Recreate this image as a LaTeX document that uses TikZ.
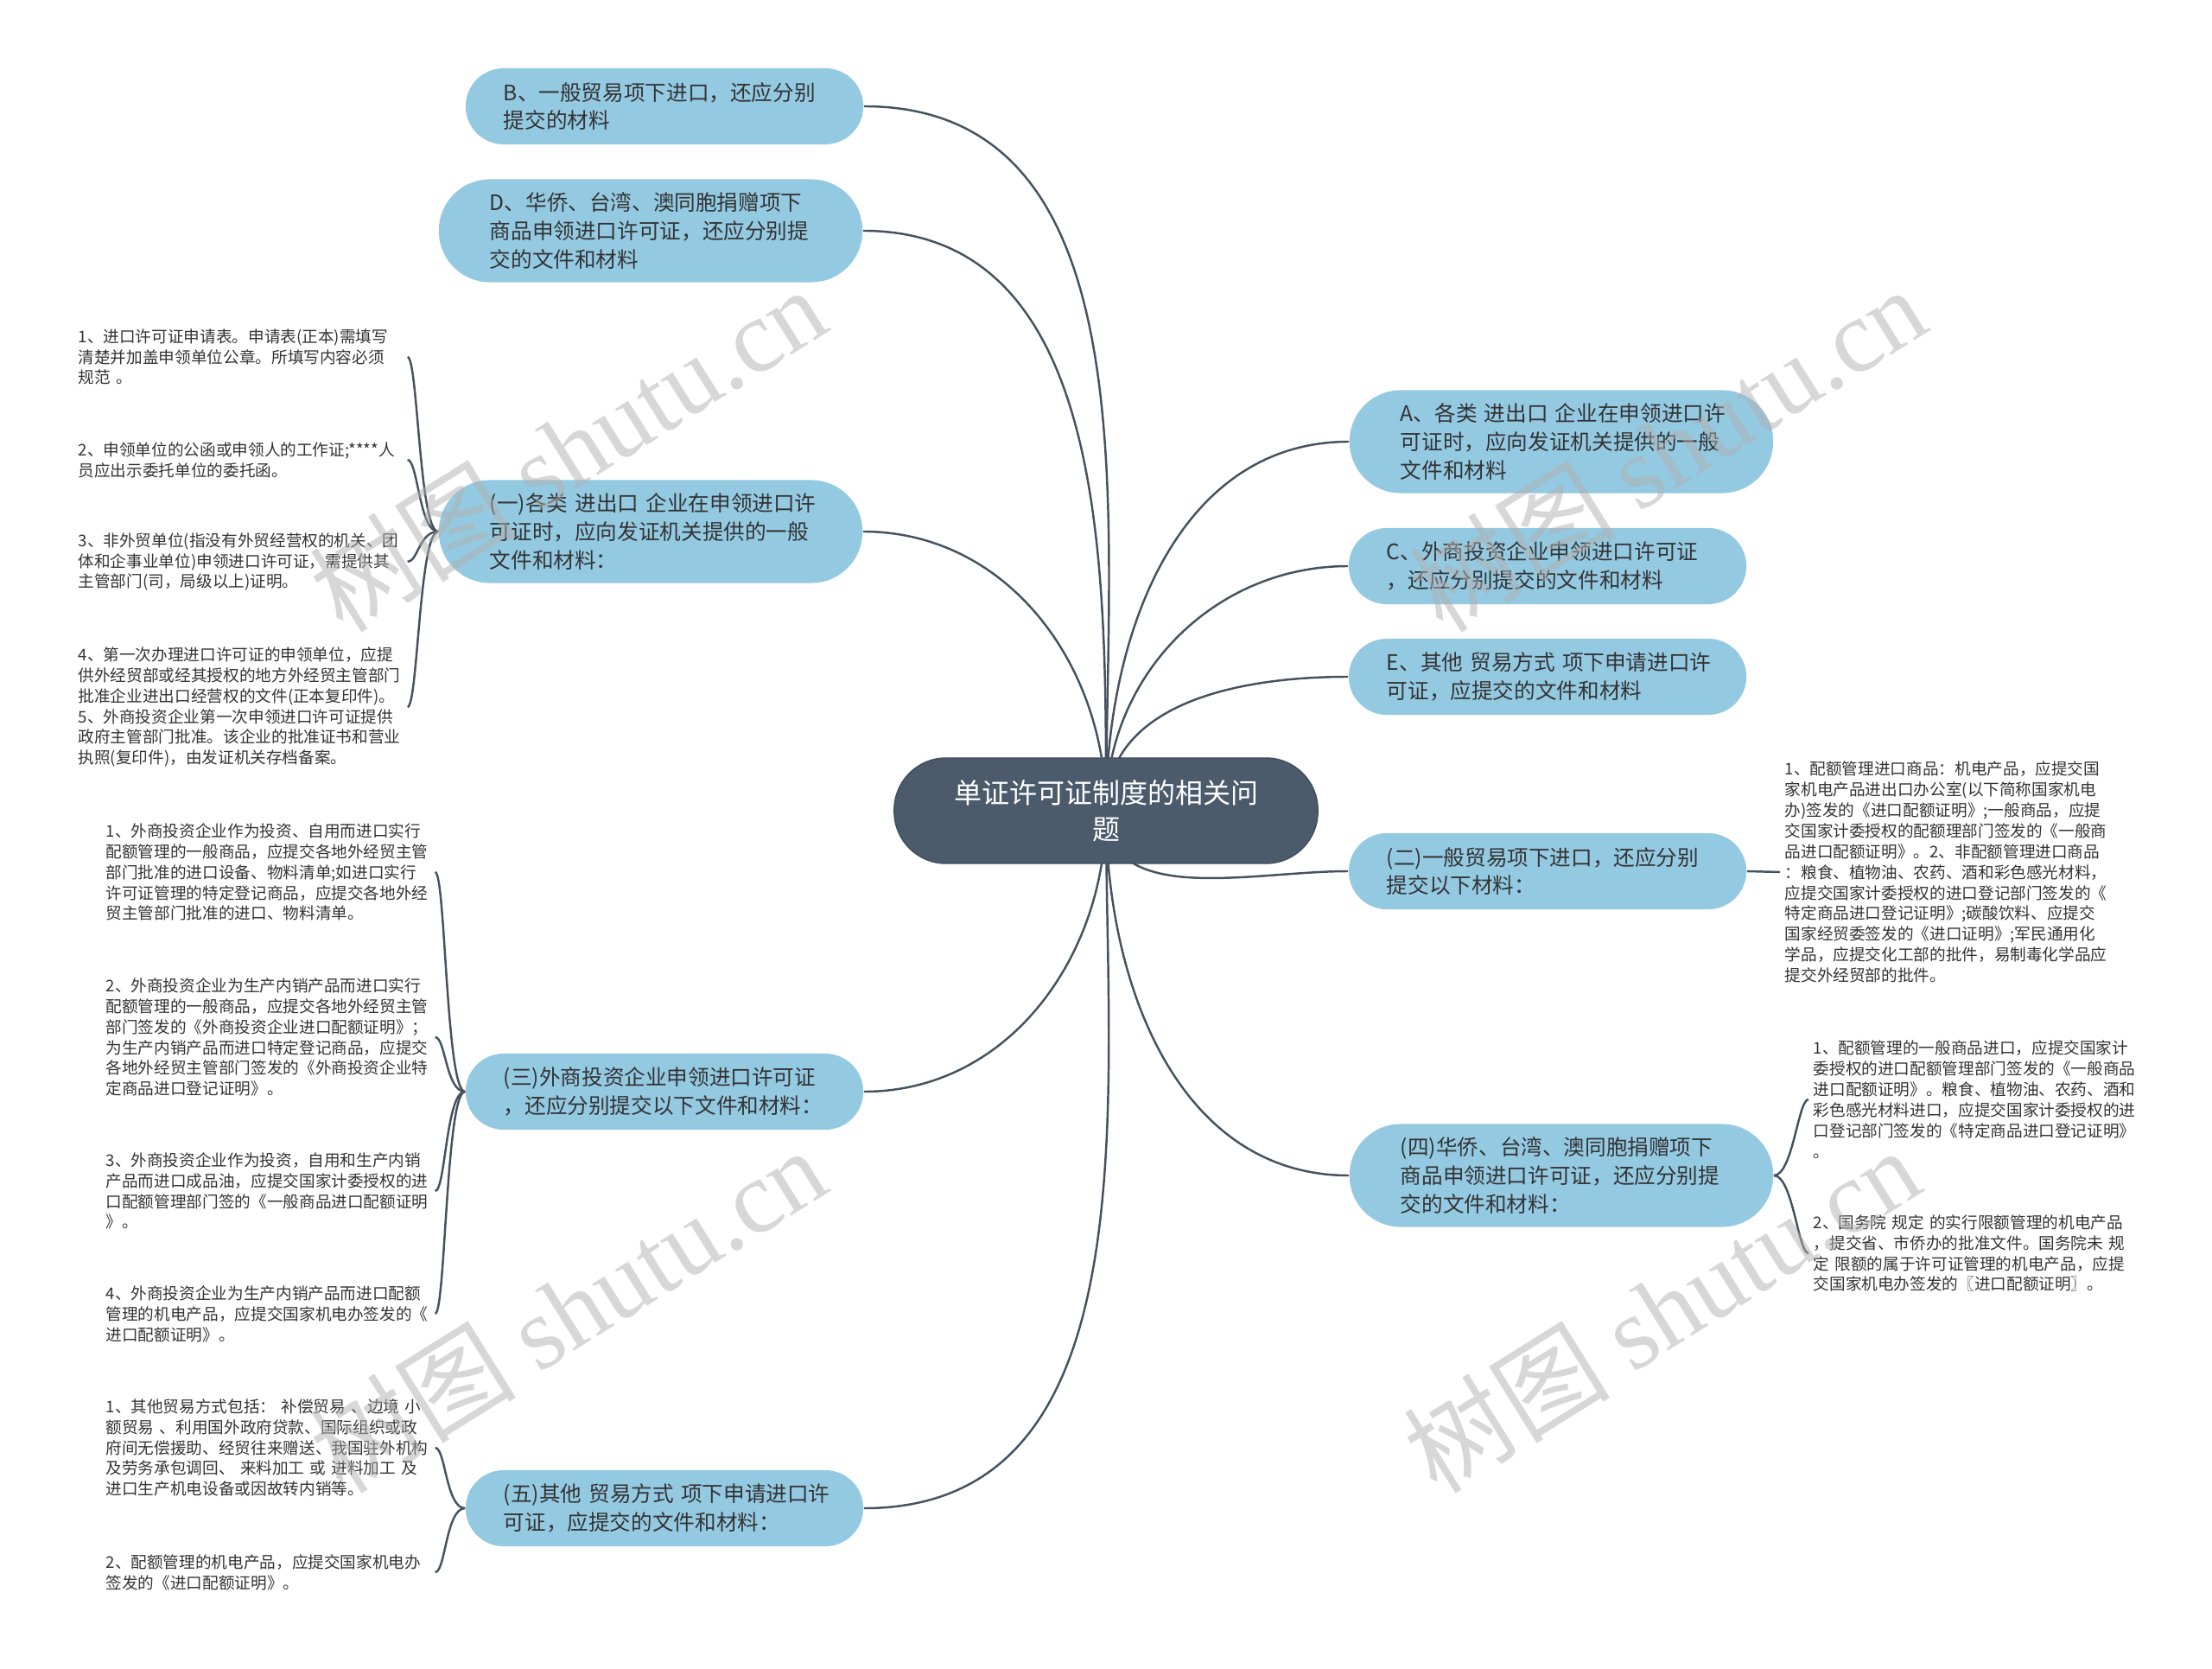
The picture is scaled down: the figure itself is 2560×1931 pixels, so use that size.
\documentclass[tikz,border=0pt]{standalone}
\usepackage{fontspec}
\setmainfont{Noto Sans CJK SC}
\newfontfamily\wmfont{Liberation Serif}
\usetikzlibrary{backgrounds}
\definecolor{topicfill}{HTML}{4B5B6B}
\definecolor{branchfill}{HTML}{94C9E2}
\definecolor{linecol}{HTML}{45525E}
\definecolor{inkcol}{HTML}{333333}
\definecolor{wmgray}{HTML}{B0B0B0}
\tikzset{
  topic/.style={fill=topicfill, draw=topicfill!85!black, text=white, align=center,
    text width=3.8cm, inner xsep=0.55cm, minimum height=1.22cm, rounded corners=0.6cm,
    font=\fontsize{9.1}{12}\selectfont},
  branch/.style={fill=branchfill, text=inkcol, align=left, text width=3.72cm,
    inner ysep=0pt, font=\fontsize{7}{9.3}\selectfont},
  pill2/.style={branch, inner xsep=0.44cm, minimum height=0.88cm, rounded corners=0.44cm},
  pill3/.style={branch, inner xsep=0.59cm, minimum height=1.19cm, rounded corners=0.59cm},
  leaf/.style={text=inkcol, align=left, text width=3.75cm, inner xsep=0.05cm,
    inner ysep=0pt, anchor=west, font=\fontsize{5.3}{6.8}\selectfont},
  link/.style={draw=linecol, line width=0.7pt},
  wmark/.style={text=wmgray, text opacity=0.5, rotate=32, font=\fontsize{34}{34}\selectfont},
}

\begin{document}
\begin{tikzpicture}[x=0.01cm, y=-0.01cm]
  \useasboundingbox (0,0) rectangle (2560,1931);

  % central topic
  \node[topic] (cen) at (1280,938) {单证许可证制度的相关问\\题};

  % left branches
  \node[pill2] (bB) at (769,123) {B、一般贸易项下进口，还应分别\\提交的材料};
  \node[pill3] (bD) at (753,267) {D、华侨、台湾、澳同胞捐赠项下\\商品申领进口许可证，还应分别提\\交的文件和材料};
  \node[pill3] (g1) at (753,615) {(一)各类~进出口~企业在申领进口许\\可证时，应向发证机关提供的一般\\文件和材料：};
  \node[pill2] (g3) at (769,1263) {(三)外商投资企业申领进口许可证\\，还应分别提交以下文件和材料：};
  \node[pill2] (g5) at (769,1745) {(五)其他~贸易方式~项下申请进口许\\可证，应提交的文件和材料：};

  % right branches
  \node[pill3] (bA) at (1807,511) {A、各类~进出口~企业在申领进口许\\可证时，应向发证机关提供的一般\\文件和材料};
  \node[pill2] (bC) at (1791,655) {C、外商投资企业申领进口许可证\\，还应分别提交的文件和材料};
  \node[pill2] (bE) at (1791,783) {E、其他~贸易方式~项下申请进口许\\可证，应提交的文件和材料};
  \node[pill2] (g2) at (1791,1008) {(二)一般贸易项下进口，还应分别\\提交以下材料：};
  \node[pill3] (g4) at (1807,1360) {(四)华侨、台湾、澳同胞捐赠项下\\商品申领进口许可证，还应分别提\\交的文件和材料：};

  % leaves of (一)
  \node[leaf] (l1a) at (85,413) {1、进口许可证申请表。申请表(正本)需填写\\清楚并加盖申领单位公章。所填写内容必须\\规范 。};
  \node[leaf] (l1b) at (85,532) {2、申领单位的公函或申领人的工作证;****人\\员应出示委托单位的委托函。};
  \node[leaf] (l1c) at (85,650) {3、非外贸单位(指没有外贸经营权的机关、团\\体和企事业单位)申领进口许可证，需提供其\\主管部门(司，局级以上)证明。};
  \node[leaf] (l1d) at (85,818) {4、第一次办理进口许可证的申领单位，应提\\供外经贸部或经其授权的地方外经贸主管部门\\批准企业进出口经营权的文件(正本复印件)。\\5、外商投资企业第一次申领进口许可证提供\\政府主管部门批准。该企业的批准证书和营业\\执照(复印件)，由发证机关存档备案。};

  % leaves of (三)
  \node[leaf] (l3a) at (117,1009) {1、外商投资企业作为投资、自用而进口实行\\配额管理的一般商品，应提交各地外经贸主管\\部门批准的进口设备、物料清单;如进口实行\\许可证管理的特定登记商品，应提交各地外经\\贸主管部门批准的进口、物料清单。};
  \node[leaf] (l3b) at (117,1200) {2、外商投资企业为生产内销产品而进口实行\\配额管理的一般商品，应提交各地外经贸主管\\部门签发的《外商投资企业进口配额证明》；\\为生产内销产品而进口特定登记商品，应提交\\各地外经贸主管部门签发的《外商投资企业特\\定商品进口登记证明》。};
  \node[leaf] (l3c) at (117,1378) {3、外商投资企业作为投资，自用和生产内销\\产品而进口成品油，应提交国家计委授权的进\\口配额管理部门签的《一般商品进口配额证明\\》。};
  \node[leaf] (l3d) at (117,1520) {4、外商投资企业为生产内销产品而进口配额\\管理的机电产品，应提交国家机电办签发的《\\进口配额证明》。};

  % leaves of (五)
  \node[leaf] (l5a) at (117,1675) {1、其他贸易方式包括： 补偿贸易 、边境 小\\额贸易 、利用国外政府贷款、国际组织或政\\府间无偿援助、经贸往来赠送、我国驻外机构\\及劳务承包调回、 来料加工 或 进料加工 及\\进口生产机电设备或因故转内销等。};
  \node[leaf] (l5b) at (117,1819) {2、配额管理的机电产品，应提交国家机电办\\签发的《进口配额证明》。};

  % leaf of (二)
  \node[leaf] (l2a) at (2060,1009) {1、配额管理进口商品：机电产品，应提交国\\家机电产品进出口办公室(以下简称国家机电\\办)签发的《进口配额证明》;一般商品，应提\\交国家计委授权的配额理部门签发的《一般商\\品进口配额证明》。2、非配额管理进口商品\\：粮食、植物油、农药、酒和彩色感光材料，\\应提交国家计委授权的进口登记部门签发的《\\特定商品进口登记证明》;碳酸饮料、应提交\\国家经贸委签发的《进口证明》;军民通用化\\学品，应提交化工部的批件，易制毒化学品应\\提交外经贸部的批件。};

  % leaves of (四)
  \node[leaf] (l4a) at (2093,1272) {1、配额管理的一般商品进口，应提交国家计\\委授权的进口配额管理部门签发的《一般商品\\进口配额证明》。粮食、植物油、农药、酒和\\彩色感光材料进口，应提交国家计委授权的进\\口登记部门签发的《特定商品进口登记证明》\\。};
  \node[leaf] (l4b) at (2093,1450) {2、国务院 规定 的实行限额管理的机电产品\\，提交省、市侨办的批准文件。国务院未 规\\定 限额的属于许可证管理的机电产品，应提\\交国家机电办签发的〖进口配额证明〗。};

  % connectors from the topic
  \begin{scope}[on background layer]
    \foreach \b in {bB,bD,g1} \draw[link] (cen.center) to[out=90,in=0] (\b.east);
    \foreach \b in {g3,g5} \draw[link] (cen.center) to[out=-90,in=0] (\b.east);
    \foreach \b in {bA,bC,bE} \draw[link] (cen.center) to[out=90,in=180] (\b.west);
    \foreach \b in {g2,g4} \draw[link] (cen.center) to[out=-90,in=180] (\b.west);
  \end{scope}

  % brackets to the leaves
  \foreach \l in {l1a,l1b,l1c,l1d} \draw[link] (g1.west) .. controls +(-22,0) and +(12,0) .. (\l.east);
  \foreach \l in {l3a,l3b,l3c,l3d} \draw[link] (g3.west) .. controls +(-22,0) and +(12,0) .. (\l.east);
  \foreach \l in {l5a,l5b} \draw[link] (g5.west) .. controls +(-22,0) and +(12,0) .. (\l.east);
  \foreach \l in {l4a,l4b} \draw[link] (g4.east) .. controls +(22,0) and +(-12,0) .. (\l.west);
  \draw[link] (g2.east) -- (l2a.west);

  % watermark
  \node[wmark] (wm1) at (657,519) {树图 {\wmfont shutu.cn}};
  \node[wmark] (wm2) at (1930,519) {树图 {\wmfont shutu.cn}};
  \node[wmark] (wm3) at (657,1515) {树图 {\wmfont shutu.cn}};
  \node[wmark] (wm4) at (1923,1515) {树图 {\wmfont shutu.cn}};
\end{tikzpicture}
\end{document}
